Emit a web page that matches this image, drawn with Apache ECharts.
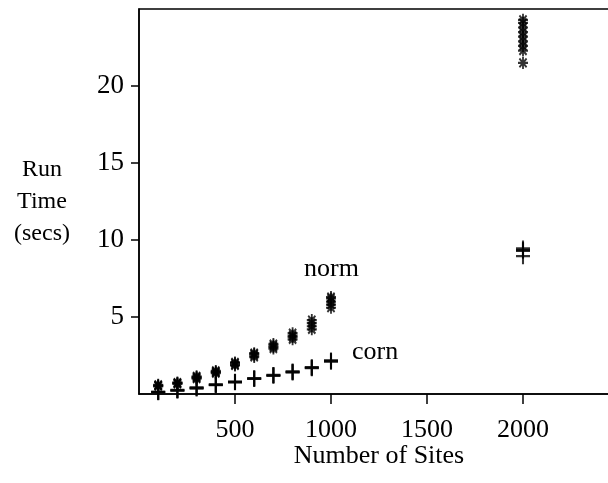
<!DOCTYPE html>
<html>
<head>
<meta charset="utf-8">
<script src="https://cdn.jsdelivr.net/npm/echarts@6/dist/echarts.min.js"></script>
<style>
  html, body { margin: 0; padding: 0; background: #fff; }
  #chart { width: 608px; height: 483px; }
</style>
</head>
<body>
<div id="chart"></div>
<script>
// number of sites for each group of runs
var siteCounts = [100, 200, 300, 400, 500, 600, 700, 800, 900, 1000, 2000];

// run times (secs), several runs per site count
var normRuns = [
  [0.5, 0.55, 0.6, 0.55],
  [0.65, 0.7, 0.75, 0.7],
  [1.0, 1.05, 1.1, 1.15],
  [1.35, 1.4, 1.45, 1.5],
  [1.85, 1.9, 2.0, 2.05],
  [2.4, 2.5, 2.6, 2.65],
  [2.95, 3.05, 3.15, 3.25],
  [3.55, 3.7, 3.8, 3.95],
  [4.2, 4.4, 4.6, 4.8],
  [5.6, 5.8, 6.0, 6.2, 6.3],
  [21.5, 22.3, 22.6, 22.9, 23.2, 23.5, 23.8, 24.1, 24.3]
];
var cornRuns = [
  [0.12, 0.13, 0.14],
  [0.22, 0.24, 0.26],
  [0.36, 0.4, 0.42],
  [0.58, 0.6, 0.62],
  [0.76, 0.78, 0.8],
  [0.98, 1.0, 1.02],
  [1.18, 1.21, 1.24],
  [1.4, 1.43, 1.46],
  [1.68, 1.71, 1.74],
  [2.1, 2.14, 2.18],
  [8.95, 9.3, 9.35, 9.45]
];

var xTicks = [500, 1000, 1500, 2000];
var yTicks = [5, 10, 15, 20];

function toPoints(runs) {
  var pts = [];
  runs.forEach(function (group, i) {
    group.forEach(function (v) {
      pts.push([siteCounts[i], v]);
    });
  });
  return pts;
}

var font = "'Liberation Serif', 'DejaVu Serif', serif";
var chart = echarts.init(document.getElementById("chart"));

var option = {
  animation: false,
  textStyle: { fontFamily: font },
  grid: {
    left: 139,
    right: -11,
    top: 9,
    bottom: 89,
    outerBoundsMode: "none",
    containLabel: false,
    show: true,
    borderColor: "#000",
    borderWidth: 1.5
  },
  xAxis: {
    type: "value",
    min: 0,
    max: 2500,
    interval: 500,
    name: "Number of Sites",
    nameLocation: "middle",
    nameGap: 62,
    nameMoveOverlap: false,
    nameTextStyle: { color: "#000", fontSize: 26, fontFamily: font, verticalAlign: "middle" },
    splitLine: { show: false },
    axisLine: { lineStyle: { color: "#000", width: 1.5 } },
    axisTick: { length: 10, lineStyle: { color: "#000", width: 1.5 }, customValues: xTicks },
    axisLabel: {
      color: "#000", fontSize: 26, fontFamily: font, margin: 23, customValues: xTicks,
      formatter: function (v) { return String(v); }
    }
  },
  yAxis: {
    type: "value",
    min: 0,
    max: 25,
    interval: 5,
    name: "Run\nTime\n(secs)",
    nameLocation: "middle",
    nameRotate: 0,
    nameGap: 97,
    nameMoveOverlap: false,
    nameTextStyle: {
      color: "#000", fontSize: 24, fontFamily: font,
      align: "center", verticalAlign: "middle", lineHeight: 32
    },
    splitLine: { show: false },
    axisLine: { lineStyle: { color: "#000", width: 1.5 } },
    axisTick: { length: 8, lineStyle: { color: "#000", width: 1.5 }, customValues: yTicks },
    axisLabel: { color: "#000", fontSize: 27, fontFamily: font, margin: 15, customValues: yTicks }
  },
  series: [
    {
      name: "norm",
      type: "scatter",
      data: toPoints(normRuns),
      symbol: "path://M0,-6L0,6M-6,0L6,0M-4.3,-4.3L4.3,4.3M-4.3,4.3L4.3,-4.3",
      symbolSize: [10, 12],
      itemStyle: { color: "#000", borderColor: "#000", borderWidth: 2 }
    },
    {
      name: "corn",
      type: "scatter",
      data: toPoints(cornRuns),
      symbol: "path://M0,-8L0,8M-7,0L7,0",
      symbolSize: [14, 16],
      itemStyle: { color: "#000", borderColor: "#000", borderWidth: 2.2 }
    }
  ],
  graphic: [
    {
      type: "text", left: 304, top: 256,
      style: { text: "norm", fill: "#000", font: "26px " + font }
    },
    {
      type: "text", left: 352, top: 339,
      style: { text: "corn", fill: "#000", font: "26px " + font }
    }
  ]
};

chart.setOption(option);
</script>
</body>
</html>
